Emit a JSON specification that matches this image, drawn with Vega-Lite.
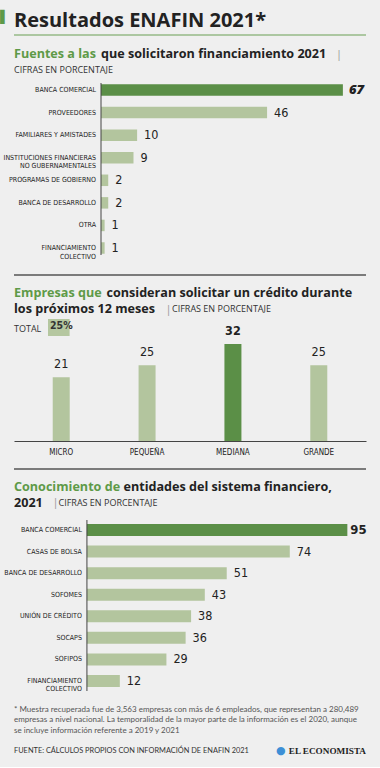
{
  "$schema": "https://vega.github.io/schema/vega-lite/v6.json",
  "background": "#efefef",
  "padding": {"left": 0, "right": 14, "top": 9, "bottom": 10},
  "spacing": 0,
  "bounds": "flush",
  "config": {
    "view": {"stroke": null},
    "font": "Lato",
    "title": {"anchor": "start", "color": "#222222", "font": "Open Sans", "fontWeight": "bold", "fontSize": 12.6, "baseline": "top", "orient": "bottom"}
  },
  "datasets": {
    "blank": [{}],
    "fuentes": [
      {"fuente": "BANCA COMERCIAL", "valor": 67},
      {"fuente": "PROVEEDORES", "valor": 46},
      {"fuente": "FAMILIARES Y AMISTADES", "valor": 10},
      {"fuente": "INSTITUCIONES FINANCIERAS\nNO GUBERNAMENTALES", "valor": 9},
      {"fuente": "PROGRAMAS DE GOBIERNO", "valor": 2},
      {"fuente": "BANCA DE DESARROLLO", "valor": 2},
      {"fuente": "OTRA", "valor": 1},
      {"fuente": "FINANCIAMIENTO\nCOLECTIVO", "valor": 1}
    ],
    "empresas": [
      {"tamano": "MICRO", "valor": 21},
      {"tamano": "PEQUEÑA", "valor": 25},
      {"tamano": "MEDIANA", "valor": 32},
      {"tamano": "GRANDE", "valor": 25}
    ],
    "conoc": [
      {"entidad": "BANCA COMERCIAL", "valor": 95},
      {"entidad": "CASAS DE BOLSA", "valor": 74},
      {"entidad": "BANCA DE DESARROLLO", "valor": 51},
      {"entidad": "SOFOMES", "valor": 43},
      {"entidad": "UNIÓN DE CRÉDITO", "valor": 38},
      {"entidad": "SOCAPS", "valor": 36},
      {"entidad": "SOFIPOS", "valor": 29},
      {"entidad": "FINANCIAMIENTO\nCOLECTIVO", "valor": 12}
    ]
  },
  "vconcat": [
    {"width": 352, "height": 1, "data": {"name": "blank"}, "mark": {"type": "point", "opacity": 0, "size": 1}, "encoding": {},
     "title": {"text": "▌", "font": "DejaVu Sans", "fontWeight": "normal", "fontSize": 12, "color": "#5e9a48", "dx": -14, "offset": 2}},
    {"width": 352, "height": 1, "data": {"name": "blank"}, "mark": {"type": "point", "opacity": 0, "size": 1}, "encoding": {},
     "title": {"text": "Resultados ENAFIN 2021*", "fontSize": 20, "offset": 0}},
    {"width": 352, "height": 23, "data": {"name": "blank"}, "mark": {"type": "point", "opacity": 0, "size": 1}, "encoding": {}},
    {"width": 352, "height": 1, "data": {"name": "blank"}, "mark": {"type": "rule", "color": "#6aa055", "strokeWidth": 1.2},
     "encoding": {"y": {"datum": 0, "type": "quantitative", "scale": {"domain": [0, 1]}, "axis": null}}},
    {"width": 352, "height": 1, "data": {"name": "blank"}, "mark": {"type": "point", "opacity": 0, "size": 1}, "encoding": {},
     "title": {"text": "Fuentes a las", "color": "#5e9a48", "offset": 12}},
    {"width": 352, "height": 1, "data": {"name": "blank"}, "mark": {"type": "point", "opacity": 0, "size": 1}, "encoding": {},
     "title": {"text": "que solicitaron financiamiento 2021", "dx": 87, "offset": 11}},
    {"width": 352, "height": 1, "data": {"name": "blank"}, "mark": {"type": "point", "opacity": 0, "size": 1}, "encoding": {},
     "title": {"text": "|", "fontWeight": "normal", "fontSize": 11, "color": "#999999", "dx": 322, "offset": 11}},
    {"width": 352, "height": 1, "data": {"name": "blank"}, "mark": {"type": "point", "opacity": 0, "size": 1}, "encoding": {},
     "title": {"text": "CIFRAS EN PORCENTAJE", "fontWeight": "normal", "fontSize": 9, "color": "#333333", "offset": 27}},
    {"width": 352, "height": 44, "data": {"name": "blank"}, "mark": {"type": "point", "opacity": 0, "size": 1}, "encoding": {}},
    {
      "width": 352, "height": 172,
      "layer": [
        {
          "data": {"name": "fuentes"},
          "mark": {"type": "bar", "height": 11.5},
          "encoding": {
            "y": {"field": "fuente", "type": "nominal", "sort": null, "axis": null, "scale": {"paddingInner": 0.49, "paddingOuter": 0.055}},
            "x": {"field": "valor", "type": "quantitative", "scale": {"domain": [-24.1, 73.4], "nice": false, "zero": false}, "axis": null},
            "color": {"condition": {"test": "datum.valor >= 67", "value": "#5b8f47"}, "value": "#b3c59e"}
          }
        },
        {
          "data": {"name": "blank"},
          "mark": {"type": "rule", "color": "#444444", "strokeWidth": 1},
          "encoding": {"x": {"datum": 0, "type": "quantitative"}}
        },
        {
          "data": {"name": "fuentes"},
          "mark": {"type": "text", "align": "right", "dx": -5, "font": "Noto Sans ExtraCondensed, Noto Sans Condensed, DejaVu Sans Condensed, Roboto Condensed, Roboto", "fontSize": 7, "lineBreak": "\n", "lineHeight": 8.5, "color": "#222222"},
          "encoding": {
            "y": {"field": "fuente", "type": "nominal", "sort": null, "axis": null},
            "x": {"datum": 0, "type": "quantitative"},
            "text": {"field": "fuente"}
          }
        },
        {
          "data": {"name": "fuentes"},
          "transform": [{"filter": "datum.valor < 67"}],
          "mark": {"type": "text", "align": "left", "dx": 7, "font": "Noto Sans ExtraCondensed, Noto Sans Condensed, DejaVu Sans Condensed, Roboto Condensed, Roboto", "fontSize": 12.5, "color": "#222222"},
          "encoding": {
            "y": {"field": "fuente", "type": "nominal", "sort": null, "axis": null},
            "x": {"field": "valor", "type": "quantitative"},
            "text": {"field": "valor"}
          }
        },
        {
          "data": {"name": "fuentes"},
          "transform": [{"filter": "datum.valor >= 67"}],
          "mark": {"type": "text", "align": "left", "dx": 6, "font": "Open Sans", "fontWeight": 800, "fontStyle": "italic", "fontSize": 13, "color": "#222222"},
          "encoding": {
            "y": {"field": "fuente", "type": "nominal", "sort": null, "axis": null},
            "x": {"field": "valor", "type": "quantitative"},
            "text": {"field": "valor"}
          }
        }
      ]
    },
    {"width": 352, "height": 19, "data": {"name": "blank"}, "mark": {"type": "point", "opacity": 0, "size": 1}, "encoding": {}},
    {"width": 352, "height": 1, "data": {"name": "blank"}, "mark": {"type": "rule", "color": "#555555", "strokeWidth": 1.4},
     "encoding": {"y": {"datum": 0, "type": "quantitative", "scale": {"domain": [0, 1]}, "axis": null}}},
    {"width": 352, "height": 1, "data": {"name": "blank"}, "mark": {"type": "point", "opacity": 0, "size": 1}, "encoding": {},
     "title": {"text": "Empresas que", "color": "#5e9a48", "offset": 11}},
    {"width": 352, "height": 1, "data": {"name": "blank"}, "mark": {"type": "point", "opacity": 0, "size": 1}, "encoding": {},
     "title": {"text": "consideran solicitar un crédito durante", "dx": 92.5, "offset": 10}},
    {"width": 352, "height": 1, "data": {"name": "blank"}, "mark": {"type": "point", "opacity": 0, "size": 1}, "encoding": {},
     "title": {"text": "los próximos 12 meses", "offset": 25}},
    {"width": 352, "height": 1, "data": {"name": "blank"}, "mark": {"type": "point", "opacity": 0, "size": 1}, "encoding": {},
     "title": {"text": "|", "fontWeight": "normal", "fontSize": 11, "color": "#999999", "dx": 151.5, "offset": 25}},
    {"width": 352, "height": 1, "data": {"name": "blank"}, "mark": {"type": "point", "opacity": 0, "size": 1}, "encoding": {},
     "title": {"text": "CIFRAS EN PORCENTAJE", "fontWeight": "normal", "fontSize": 9, "color": "#333333", "dx": 158, "offset": 25}},
    {"width": 352, "height": 1, "data": {"name": "blank"}, "mark": {"type": "point", "opacity": 0, "size": 1}, "encoding": {},
     "title": {"text": "TOTAL", "fontWeight": "normal", "fontSize": 9, "color": "#333333", "offset": 44}},
    {"width": 352, "height": 38, "data": {"name": "blank"}, "mark": {"type": "point", "opacity": 0, "size": 1}, "encoding": {}},
    {
      "spacing": 0,
      "bounds": "flush",
      "hconcat": [
        {"width": 33.7, "height": 17, "data": {"name": "blank"}, "mark": {"type": "point", "opacity": 0, "size": 1}, "encoding": {}},
        {"width": 21.6, "height": 17, "data": {"name": "blank"}, "mark": {"type": "rect", "color": "#b5c7a0"}, "encoding": {}}
      ]
    },
    {"width": 352, "height": 17, "data": {"name": "blank"}, "mark": {"type": "point", "opacity": 0, "size": 1}, "encoding": {}},
    {"width": 352, "height": 1, "data": {"name": "blank"}, "mark": {"type": "point", "opacity": 0, "size": 1}, "encoding": {},
     "title": {"text": "25%", "font": "Noto Sans ExtraCondensed, Noto Sans Condensed, DejaVu Sans Condensed, Roboto Condensed, Roboto", "fontWeight": "bold", "fontSize": 10.5, "color": "#333333", "dx": 36, "offset": -16}},
    {"width": 352, "height": 3, "data": {"name": "blank"}, "mark": {"type": "point", "opacity": 0, "size": 1}, "encoding": {}},
    {
      "width": 352, "height": 101,
      "data": {"name": "empresas"},
      "encoding": {
        "x": {"field": "tamano", "type": "nominal", "sort": null, "scale": {"paddingInner": 0, "paddingOuter": 0.05},
              "axis": {"title": null, "ticks": false, "domainColor": "#444444", "domainWidth": 1.2, "labelFont": "Noto Sans ExtraCondensed, Noto Sans Condensed, DejaVu Sans Condensed, Roboto Condensed, Roboto", "labelFontSize": 8, "labelColor": "#222222", "labelPadding": 7, "labelAngle": 0}}
      },
      "layer": [
        {
          "mark": {"type": "bar", "width": 17},
          "encoding": {
            "y": {"field": "valor", "type": "quantitative", "scale": {"domain": [0, 33.3], "nice": false}, "axis": null},
            "color": {"condition": {"test": "datum.valor >= 32", "value": "#5b8f47"}, "value": "#b3c59e"}
          }
        },
        {
          "transform": [{"filter": "datum.valor < 32"}],
          "mark": {"type": "text", "baseline": "bottom", "dy": -6, "font": "Noto Sans ExtraCondensed, Noto Sans Condensed, DejaVu Sans Condensed, Roboto Condensed, Roboto", "fontSize": 12.5, "color": "#222222"},
          "encoding": {
            "y": {"field": "valor", "type": "quantitative"},
            "text": {"field": "valor"}
          }
        },
        {
          "transform": [{"filter": "datum.valor >= 32"}],
          "mark": {"type": "text", "baseline": "bottom", "dy": -6, "font": "Noto Sans ExtraCondensed, Noto Sans Condensed, DejaVu Sans Condensed, Roboto Condensed, Roboto", "fontWeight": "bold", "fontSize": 12.5, "color": "#222222"},
          "encoding": {
            "y": {"field": "valor", "type": "quantitative"},
            "text": {"field": "valor"}
          }
        }
      ]
    },
    {"width": 352, "height": 27, "data": {"name": "blank"}, "mark": {"type": "point", "opacity": 0, "size": 1}, "encoding": {}},
    {"width": 352, "height": 1, "data": {"name": "blank"}, "mark": {"type": "rule", "color": "#555555", "strokeWidth": 1.4},
     "encoding": {"y": {"datum": 0, "type": "quantitative", "scale": {"domain": [0, 1]}, "axis": null}}},
    {"width": 352, "height": 1, "data": {"name": "blank"}, "mark": {"type": "point", "opacity": 0, "size": 1}, "encoding": {},
     "title": {"text": "Conocimiento de", "color": "#5e9a48", "offset": 11}},
    {"width": 352, "height": 1, "data": {"name": "blank"}, "mark": {"type": "point", "opacity": 0, "size": 1}, "encoding": {},
     "title": {"text": "entidades del sistema financiero,", "dx": 109.5, "offset": 10}},
    {"width": 352, "height": 1, "data": {"name": "blank"}, "mark": {"type": "point", "opacity": 0, "size": 1}, "encoding": {},
     "title": {"text": "2021", "offset": 25}},
    {"width": 352, "height": 1, "data": {"name": "blank"}, "mark": {"type": "point", "opacity": 0, "size": 1}, "encoding": {},
     "title": {"text": "|", "fontWeight": "normal", "fontSize": 11, "color": "#999999", "dx": 38.5, "offset": 24}},
    {"width": 352, "height": 1, "data": {"name": "blank"}, "mark": {"type": "point", "opacity": 0, "size": 1}, "encoding": {},
     "title": {"text": "CIFRAS EN PORCENTAJE", "fontWeight": "normal", "fontSize": 9, "color": "#333333", "dx": 44.5, "offset": 25}},
    {"width": 352, "height": 46, "data": {"name": "blank"}, "mark": {"type": "point", "opacity": 0, "size": 1}, "encoding": {}},
    {
      "width": 352, "height": 171,
      "layer": [
        {
          "data": {"name": "conoc"},
          "mark": {"type": "bar", "height": 12},
          "encoding": {
            "y": {"field": "entidad", "type": "nominal", "sort": null, "axis": null, "scale": {"paddingInner": 0.44, "paddingOuter": 0.185}},
            "x": {"field": "valor", "type": "quantitative", "scale": {"domain": [-26.6, 101.8], "nice": false, "zero": false}, "axis": null},
            "color": {"condition": {"test": "datum.valor >= 95", "value": "#5b8f47"}, "value": "#b3c59e"}
          }
        },
        {
          "data": {"name": "blank"},
          "mark": {"type": "rule", "color": "#444444", "strokeWidth": 1},
          "encoding": {"x": {"datum": 0, "type": "quantitative"}}
        },
        {
          "data": {"name": "conoc"},
          "mark": {"type": "text", "align": "right", "dx": -5, "font": "Noto Sans ExtraCondensed, Noto Sans Condensed, DejaVu Sans Condensed, Roboto Condensed, Roboto", "fontSize": 7, "lineBreak": "\n", "lineHeight": 8.5, "color": "#222222"},
          "encoding": {
            "y": {"field": "entidad", "type": "nominal", "sort": null, "axis": null},
            "x": {"datum": 0, "type": "quantitative"},
            "text": {"field": "entidad"}
          }
        },
        {
          "data": {"name": "conoc"},
          "transform": [{"filter": "datum.valor < 95"}],
          "mark": {"type": "text", "align": "left", "dx": 7, "font": "Noto Sans ExtraCondensed, Noto Sans Condensed, DejaVu Sans Condensed, Roboto Condensed, Roboto", "fontSize": 12.5, "color": "#222222"},
          "encoding": {
            "y": {"field": "entidad", "type": "nominal", "sort": null, "axis": null},
            "x": {"field": "valor", "type": "quantitative"},
            "text": {"field": "valor"}
          }
        },
        {
          "data": {"name": "conoc"},
          "transform": [{"filter": "datum.valor >= 95"}],
          "mark": {"type": "text", "align": "left", "dx": 3, "font": "Noto Sans ExtraCondensed, Noto Sans Condensed, DejaVu Sans Condensed, Roboto Condensed, Roboto", "fontWeight": "bold", "fontSize": 13, "color": "#222222"},
          "encoding": {
            "y": {"field": "entidad", "type": "nominal", "sort": null, "axis": null},
            "x": {"field": "valor", "type": "quantitative"},
            "text": {"field": "valor"}
          }
        }
      ]
    },
    {"width": 352, "height": 1, "data": {"name": "blank"}, "mark": {"type": "point", "opacity": 0, "size": 1}, "encoding": {},
     "title": {"text": ["* Muestra recuperada fue de 3,563 empresas con más de 6 empleados, que representan a 280,489", "empresas a nivel nacional. La temporalidad de la mayor parte de la información es el 2020, aunque", "se incluye información referente a 2019 y 2021"], "font": "Lato", "fontSize": 8, "fontWeight": "normal", "color": "#555555", "lineHeight": 10.3, "offset": 14}},
    {"width": 352, "height": 1, "data": {"name": "blank"}, "mark": {"type": "point", "opacity": 0, "size": 1}, "encoding": {},
     "title": {"text": "FUENTE: CÁLCULOS PROPIOS CON INFORMACIÓN DE ENAFIN 2021", "font": "Lato", "fontSize": 7.4, "fontWeight": "normal", "color": "#333333", "offset": 54}},
    {"width": 352, "height": 1, "data": {"name": "blank"}, "mark": {"type": "point", "opacity": 0, "size": 1}, "encoding": {},
     "title": {"text": "●", "font": "DejaVu Sans", "fontSize": 11, "fontWeight": "normal", "color": "#3d8fd6", "dx": 262, "offset": 51}},
    {"width": 352, "height": 1, "data": {"name": "blank"}, "mark": {"type": "point", "opacity": 0, "size": 1}, "encoding": {},
     "title": {"text": "EL ECONOMISTA", "anchor": "end", "font": "Liberation Serif", "fontSize": 9.2, "fontWeight": "bold", "color": "#222222", "offset": 52}}
  ]
}
